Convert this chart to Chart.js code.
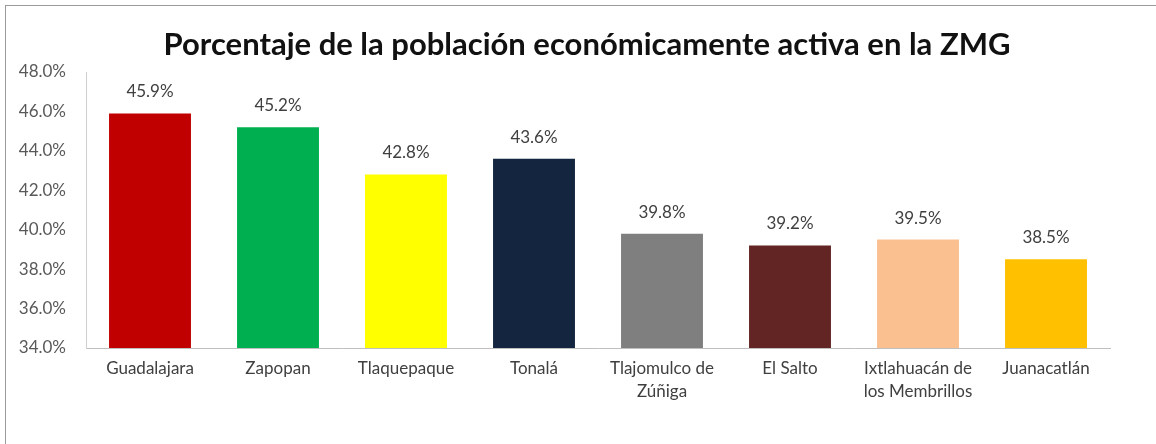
<!DOCTYPE html>
<html>
<head>
<meta charset="utf-8">
<script src="https://cdn.jsdelivr.net/npm/chart.js@4.4.1/dist/chart.umd.min.js"></script>
<style>
  body { margin: 0; background: #fff; }
  .wrap { position: relative; width: 1156px; height: 444px; }
  .frame { position: absolute; left: 5px; top: 5px; right: 0; bottom: 0;
           border-left: 1px solid #9a9a9a; border-top: 1px solid #9a9a9a; pointer-events: none; }
</style>
</head>
<body>
<div class="wrap">
  <canvas id="peaChart" width="1156" height="444"></canvas>
  <div class="frame"></div>
</div>
<script>
// ===== DATA =====
const titulo = 'Porcentaje de la población económicamente activa en la ZMG';
const municipios = ['Guadalajara', 'Zapopan', 'Tlaquepaque', 'Tonalá', ['Tlajomulco de', 'Zúñiga'],
  'El Salto', ['Ixtlahuacán de', 'los Membrillos'], 'Juanacatlán'];
const porcentajes = [45.9, 45.2, 42.8, 43.6, 39.8, 39.2, 39.5, 38.5];
const colores = ['#C00000', '#00B050', '#FFFF00', '#13253F', '#7F7F7F', '#632523', '#FAC090', '#FFC000'];
const yTicks = [34, 36, 38, 40, 42, 44, 46, 48];

// ===== TITLE + LABELS ON BARS =====
const textos = {
  id: 'textos',
  afterDatasetsDraw(chart) {
    const ctx = chart.ctx;
    ctx.save();
    ctx.textAlign = 'center';
    ctx.font = 'bold 31px Lato';
    ctx.fillStyle = '#111';
    ctx.textBaseline = 'middle';
    ctx.fillText(titulo, 587, 45);

    ctx.font = '17px Lato';
    ctx.fillStyle = '#404040';
    ctx.textBaseline = 'bottom';
    chart.getDatasetMeta(0).data.forEach((bar, i) => {
      ctx.fillText(porcentajes[i].toFixed(1) + '%', bar.x, bar.y - 13);
    });
    ctx.restore();
  }
};

// ===== CHART =====
new Chart(document.getElementById('peaChart'), {
  type: 'bar',
  data: {
    labels: municipios,
    datasets: [{
      data: porcentajes,
      backgroundColor: colores,
      barPercentage: 0.64,
      categoryPercentage: 1
    }]
  },
  options: {
    responsive: false,
    animation: false,
    layout: { padding: { left: 0, right: 46, top: 72, bottom: 0 } },
    plugins: {
      legend: { display: false },
      tooltip: { enabled: false },
      title: { display: false }
    },
    scales: {
      x: {
        grid: { display: false, drawTicks: false },
        border: { color: '#bfbfbf' },
        ticks: { color: '#404040', font: { family: 'Lato', size: 17, lineHeight: 1.35 }, padding: 9, maxRotation: 0, autoSkip: false },
        afterFit(scale) { scale.height = 96; }
      },
      y: {
        min: 34, max: 48,
        afterBuildTicks(scale) { scale.ticks = yTicks.map(v => ({ value: v })); },
        grid: { display: false, drawTicks: false },
        border: { color: '#d0d0d0' },
        ticks: { color: '#595959', font: { family: 'Lato', size: 17 }, padding: 20,
                 callback: v => v.toFixed(1) + '%' },
        afterFit(scale) { scale.width = 86; }
      }
    }
  },
  plugins: [textos]
});
</script>
</body>
</html>
